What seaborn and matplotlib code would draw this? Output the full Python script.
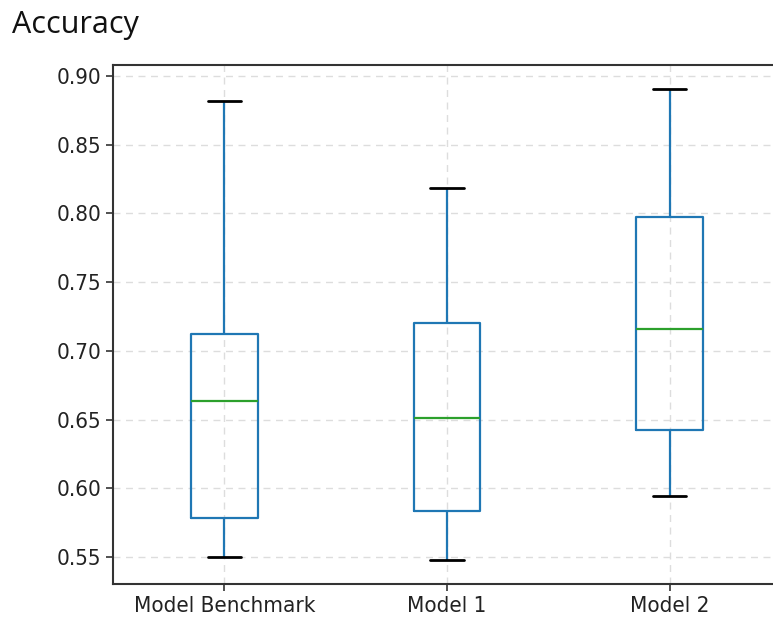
import matplotlib
matplotlib.use("Agg")
import matplotlib.pyplot as plt
import seaborn as sns
import pandas as pd

models = ["Model Benchmark", "Model 1", "Model 2"]
# five-number summaries: min, q1, median, q3, max
bench = [0.5497, 0.5783, 0.6635, 0.7122, 0.8818]
model1 = [0.5478, 0.5834, 0.6511, 0.7202, 0.8185]
model2 = [0.5943, 0.6424, 0.7159, 0.7974, 0.8905]
yticks = [0.55, 0.60, 0.65, 0.70, 0.75, 0.80, 0.85, 0.90]

df = pd.DataFrame({
    "model": [models[0]] * len(bench) + [models[1]] * len(model1) + [models[2]] * len(model2),
    "acc": bench + model1 + model2,
})

sns.set_style("white")
plt.rcParams["font.family"] = ["DejaVu Sans"]

fig = plt.figure(figsize=(7.73, 6.25), dpi=100)
ax = fig.add_axes([113 / 773, 1 - 584 / 625, (781 - 113) / 773, (584 - 65) / 625])

blue = "#1f77b4"
sns.boxplot(data=df, x="model", y="acc", order=models, ax=ax, fill=False,
            width=0.3, whis=(0, 100), linewidth=1.6, color=blue,
            medianprops=dict(color="#2ca02c", linewidth=1.6),
            capprops=dict(color="black", linewidth=2.0),
            whiskerprops=dict(color=blue, linewidth=1.6),
            boxprops=dict(color=blue, linewidth=1.6))

ax.set_xlim(-0.5, 2.5)
ax.set_ylim(0.5304, 0.908)
ax.set_yticks(yticks)
ax.set_yticklabels([f"{v:.2f}" for v in yticks])
ax.set_xlabel("")
ax.set_ylabel("")
ax.grid(True, linestyle=(0, (5, 4)), color="#dddddd", linewidth=1)
ax.set_axisbelow(True)
for s in ax.spines.values():
    s.set_color("#333333")
    s.set_linewidth(1.5)
ax.tick_params(axis="both", which="both", direction="out", length=5, width=1.2,
               color="#333333", labelsize=16, labelcolor="#222222", left=True, bottom=True)
for lab in ax.get_xticklabels() + ax.get_yticklabels():
    lab.set_fontstretch("condensed")
    lab.set_family("DejaVu Sans")

fig.text(12 / 773, 1 - 25 / 625, "Accuracy", fontsize=22, family="Open Sans",
         va="center", ha="left", color="#111111")

fig.savefig("out.png", dpi=100)
